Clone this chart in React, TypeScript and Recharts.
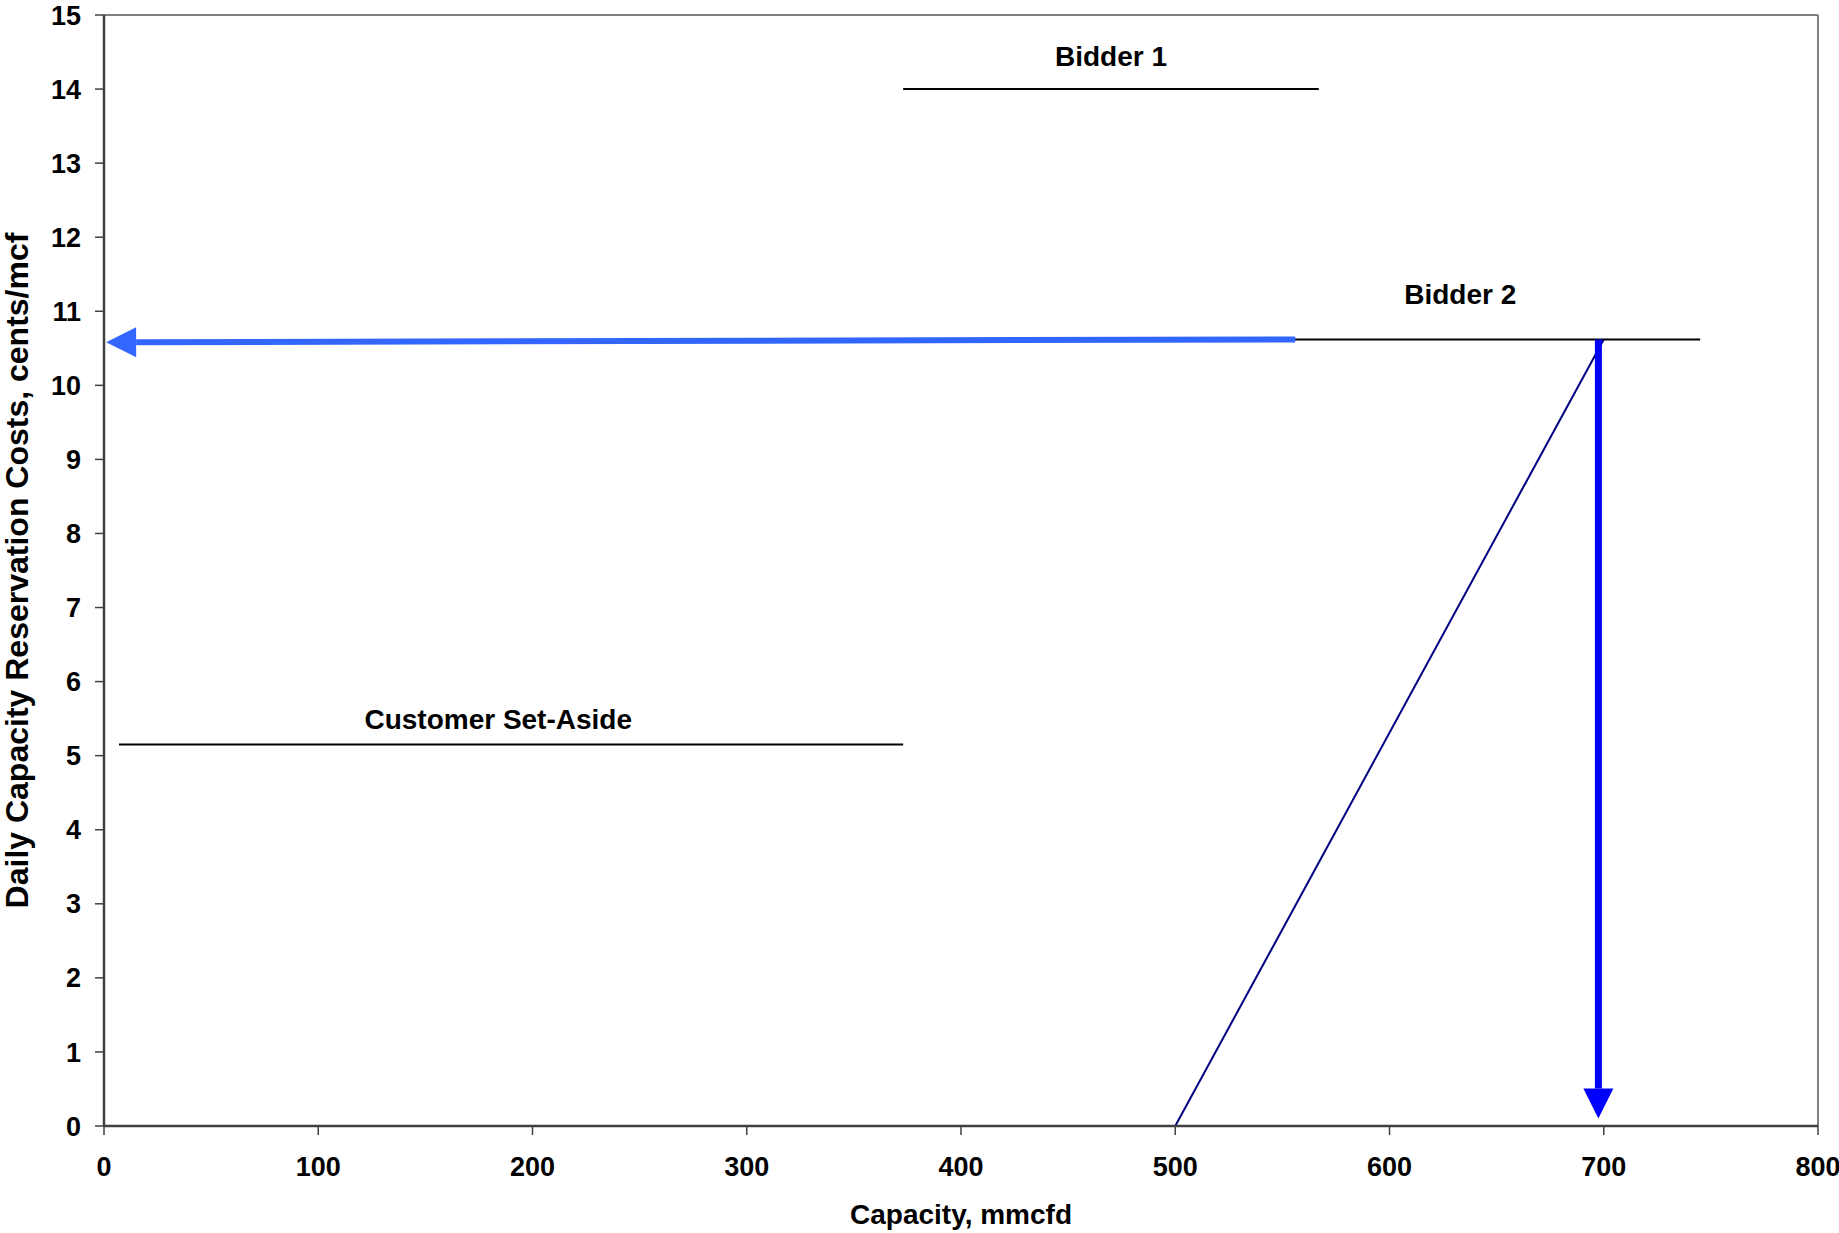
import React from "react";
import {
  LineChart,
  Line,
  XAxis,
  YAxis,
  ReferenceLine,
  ReferenceDot,
} from "recharts";

// capacity (mmcfd) vs daily reservation cost (cents/mcf)
const setAside = [
  { x: 7, y: 5.15 },
  { x: 373, y: 5.15 },
];
const bidder1 = [
  { x: 373, y: 14 },
  { x: 567, y: 14 },
];
const bidder2 = [
  { x: 555, y: 10.62 },
  { x: 745, y: 10.62 },
];
const supply = [
  { x: 500, y: 0 },
  { x: 700, y: 10.62 },
];
const priceArrow = [
  { x: 556, y: 10.62 },
  { x: 1, y: 10.58 },
];
const quantityArrow = [
  { x: 697.5, y: 10.62 },
  { x: 697.5, y: 0.1 },
];

const xTicks = [0, 100, 200, 300, 400, 500, 600, 700, 800];
const yTicks = [0, 1, 2, 3, 4, 5, 6, 7, 8, 9, 10, 11, 12, 13, 14, 15];

const labels = [
  { text: "Bidder 1", x: 470, y: 14.44 },
  { text: "Bidder 2", x: 633, y: 11.23 },
  { text: "Customer Set-Aside", x: 184, y: 5.49 },
];

const FONT = "'Liberation Sans', Arial, sans-serif";

// draws the shaft and a filled head at the last point of a line
const arrowDot = (color: string, shaft: number) => (props: any) => {
  const { cx, cy, index, points } = props;
  const key = `arrow-${index}`;
  if (!points || index !== points.length - 1) return <g key={key} />;
  const prev = points[index - 1];
  const dx = cx - prev.x;
  const dy = cy - prev.y;
  const len = Math.hypot(dx, dy) || 1;
  const ux = dx / len;
  const uy = dy / len;
  const head = 30;
  const half = 15;
  const bx = cx - ux * head;
  const by = cy - uy * head;
  const px = -uy;
  const py = ux;
  return (
    <g key={key}>
      <line x1={prev.x} y1={prev.y} x2={bx} y2={by} stroke={color} strokeWidth={shaft} />
      <polygon
        points={`${cx},${cy} ${bx + px * half},${by + py * half} ${bx - px * half},${by - py * half}`}
        fill={color}
      />
    </g>
  );
};

const YTitle = (props: any) => {
  const vb = props.viewBox || { x: 0, y: 15, width: 104, height: 1111 };
  const cx = vb.x + 17;
  const cy = vb.y + vb.height / 2;
  return (
    <text
      x={cx}
      y={cy}
      dy="0.355em"
      textAnchor="middle"
      transform={`rotate(-90, ${cx}, ${cy})`}
      fontFamily={FONT}
      fontWeight="bold"
      fontSize={32}
      fill="#000"
    >
      Daily Capacity Reservation Costs, cents/mcf
    </text>
  );
};

export default function App() {
  const tickStyle = { fill: "#000", fontSize: 27, fontWeight: "bold", fontFamily: FONT };
  return (
    <div style={{ position: "absolute", left: 0, top: 0, background: "#fff" }}>
      <LineChart
        width={1839}
        height={1233}
        margin={{ top: 15, right: 21, bottom: 0, left: 0 }}
      >
        <XAxis
          type="number"
          dataKey="x"
          domain={[0, 800]}
          ticks={xTicks}
          interval={0}
          height={107}
          tickSize={9}
          tickMargin={22}
          tick={tickStyle}
          axisLine={{ stroke: "#404040", strokeWidth: 2.5 }}
          tickLine={{ stroke: "#404040", strokeWidth: 1.5 }}
          label={{
            value: "Capacity, mmcfd",
            position: "insideBottom",
            offset: 9,
            fill: "#000",
            fontSize: 28,
            fontWeight: "bold",
            fontFamily: FONT,
          }}
        />
        <YAxis
          type="number"
          dataKey="y"
          domain={[0, 15]}
          ticks={yTicks}
          interval={0}
          width={104}
          tickSize={9}
          tickMargin={14}
          tick={tickStyle}
          axisLine={{ stroke: "#404040", strokeWidth: 2.5 }}
          tickLine={{ stroke: "#404040", strokeWidth: 1.5 }}
          label={<YTitle />}
        />
        <ReferenceLine y={15} stroke="#808080" strokeWidth={2} />
        <ReferenceLine x={800} stroke="#808080" strokeWidth={2} />

        <Line data={setAside} dataKey="y" stroke="#000" strokeWidth={2} dot={false} activeDot={false} isAnimationActive={false} />
        <Line data={bidder1} dataKey="y" stroke="#000" strokeWidth={2} dot={false} activeDot={false} isAnimationActive={false} />
        <Line data={bidder2} dataKey="y" stroke="#000" strokeWidth={2} dot={false} activeDot={false} isAnimationActive={false} />
        <Line data={supply} dataKey="y" stroke="#000080" strokeWidth={2} dot={false} activeDot={false} isAnimationActive={false} />
        <Line
          data={priceArrow}
          dataKey="y"
          stroke="none"
          dot={arrowDot("#3366FF", 6)}
          activeDot={false}
          isAnimationActive={false}
        />
        <Line
          data={quantityArrow}
          dataKey="y"
          stroke="none"
          dot={arrowDot("#0000FF", 7)}
          activeDot={false}
          isAnimationActive={false}
        />

        {labels.map((l) => (
          <ReferenceDot
            key={l.text}
            x={l.x}
            y={l.y}
            r={0}
            fill="none"
            stroke="none"
            label={{
              value: l.text,
              position: "center",
              fill: "#000",
              fontSize: 28,
              fontWeight: "bold",
              fontFamily: FONT,
            }}
          />
        ))}
      </LineChart>
    </div>
  );
}
